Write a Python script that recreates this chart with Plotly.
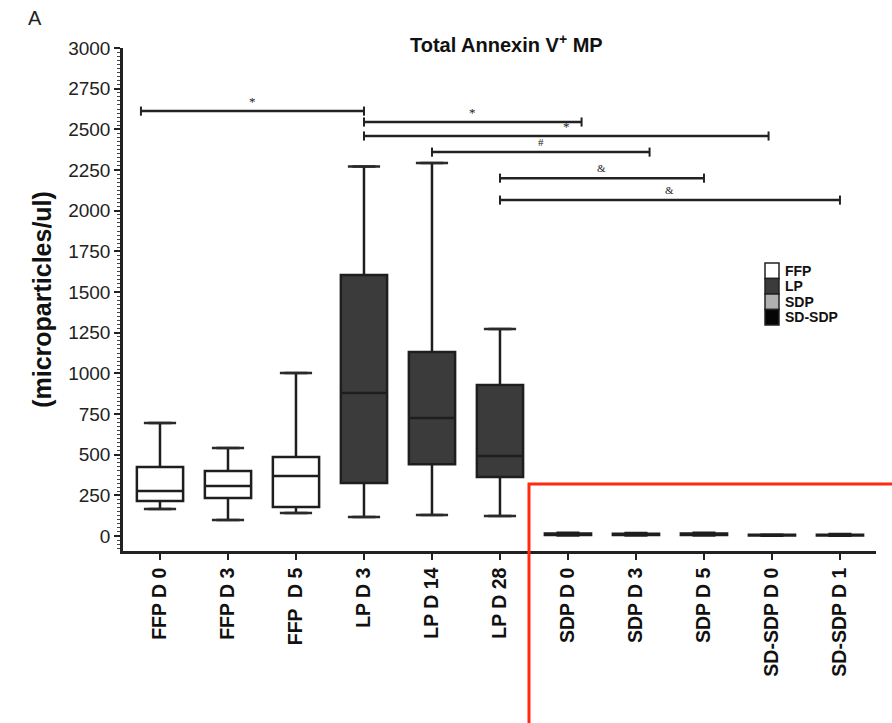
import plotly.graph_objects as go

# ---------------- data ----------------
categories = ["FFP D 0", "FFP D 3", "FFP  D 5", "LP D 3", "LP D 14", "LP D 28",
              "SDP D 0", "SDP D 3", "SDP D 5", "SD-SDP D 0", "SD-SDP D 1"]
groups = ["FFP", "FFP", "FFP", "LP", "LP", "LP", "SDP", "SDP", "SDP", "SD-SDP", "SD-SDP"]
lower = [166, 98, 141, 117, 129, 123, 3, 3, 3, 2, 2]
q1 = [215, 234, 178, 326, 442, 363, 6, 6, 7, 4, 4]
median = [277, 307, 369, 879, 725, 492, 10, 10, 11, 6, 6]
q3 = [424, 400, 486, 1604, 1131, 928, 15, 14, 16, 8, 8]
upper = [695, 541, 1002, 2272, 2293, 1272, 20, 18, 20, 10, 12]

group_names = ["FFP", "LP", "SDP", "SD-SDP"]
group_fill = ["#ffffff", "#3b3b3b", "#b0b0b0", "#050505"]

# significance brackets (category index positions)
sig_x0 = [-0.28, 3.0, 3.0, 4.0, 5.0, 5.0]
sig_x1 = [3.0, 6.2, 8.95, 7.2, 8.0, 10.0]
sig_y = [2612, 2545, 2459, 2360, 2200, 2065]
sig_label = ["*", "*", "*", "#", "&", "&"]

y_ticks = [0, 250, 500, 750, 1000, 1250, 1500, 1750, 2000, 2250, 2500, 2750, 3000]

fig = go.Figure()

for g, fc in zip(group_names, group_fill):
    idx = [i for i, gg in enumerate(groups) if gg == g]
    fig.add_trace(go.Box(
        x=[categories[i] for i in idx],
        q1=[q1[i] for i in idx],
        median=[median[i] for i in idx],
        q3=[q3[i] for i in idx],
        lowerfence=[lower[i] for i in idx],
        upperfence=[upper[i] for i in idx],
        fillcolor=fc,
        line=dict(color="#1e1e1e", width=2.5),
        width=0.68,
        boxpoints=False,
        showlegend=False,
        hoverinfo="skip",
    ))

# whisker caps
cap_x = [categories[i] for i in range(len(categories)) if groups[i] in ("FFP", "LP")] * 2
cap_y = [lower[i] for i in range(len(categories)) if groups[i] in ("FFP", "LP")] + \
        [upper[i] for i in range(len(categories)) if groups[i] in ("FFP", "LP")]
fig.add_trace(go.Scatter(
    x=cap_x, y=cap_y, mode="markers",
    marker=dict(symbol="line-ew", size=23, line=dict(color="#2a2a2a", width=2.5)),
    showlegend=False, hoverinfo="skip"))

shapes = []
annotations = []
for x0, x1, y, lab in zip(sig_x0, sig_x1, sig_y, sig_label):
    shapes.append(dict(type="line", xref="x", yref="y", x0=x0, x1=x1, y0=y, y1=y,
                       line=dict(color="#222", width=2.5)))
    for xe in (x0, x1):
        shapes.append(dict(type="line", xref="x", yref="y", x0=xe, x1=xe, y0=y - 28, y1=y + 28,
                           line=dict(color="#222", width=2)))
    annotations.append(dict(x=(x0 + x1) / 2, y=y, xref="x", yref="y", text=lab,
                            showarrow=False, yshift=10,
                            font=dict(size=11 if lab != "*" else 13, color="#222",
                                      family="Liberation Serif")))

# legend (custom)
L = 123
W = 753
B = 551
H = 503
def px_x(p):
    return (p - L) / W
def px_y(p):
    return (B - p) / H
for k, (name, fc) in enumerate(zip(group_names, group_fill)):
    top = 263 + k * 15.5
    shapes.append(dict(type="rect", xref="paper", yref="paper",
                       x0=px_x(765), x1=px_x(779), y0=px_y(top + 15.5), y1=px_y(top),
                       fillcolor=fc, line=dict(color="#222", width=1.5)))
    annotations.append(dict(xref="paper", yref="paper", x=px_x(783), y=px_y(top + 7.7),
                            text=f"<b>{name}</b>", showarrow=False, xanchor="left",
                            yanchor="middle",
                            font=dict(size=14, color="#111", family="Liberation Sans")))

# red highlight rectangle
shapes.append(dict(type="rect", xref="paper", yref="paper",
                   x0=px_x(529), x1=px_x(905), y0=px_y(740), y1=px_y(484),
                   line=dict(color="#ff2a10", width=3), fillcolor="rgba(0,0,0,0)"))

annotations.append(dict(xref="paper", yref="paper", x=px_x(506), y=px_y(44),
                        text="<b>Total Annexin V<sup>+</sup> MP</b>", showarrow=False,
                        xanchor="center", yanchor="middle",
                        font=dict(size=20, color="#111", family="Liberation Sans")))
annotations.append(dict(xref="paper", yref="paper", x=px_x(26), y=px_y(18),
                        text="A", showarrow=False, xanchor="left", yanchor="middle",
                        font=dict(size=20, color="#222", family="Liberation Sans")))

fig.update_layout(
    width=892, height=723,
    margin=dict(l=123, r=16, t=48, b=172),
    plot_bgcolor="white", paper_bgcolor="white",
    shapes=shapes, annotations=annotations,
    font=dict(family="Liberation Sans", color="#111"),
    xaxis=dict(
        type="category", categoryorder="array", categoryarray=categories,
        range=[-0.544, 10.53], showline=True, linecolor="#222", linewidth=2.5,
        ticks="outside", ticklen=6, tickwidth=2, tickcolor="#222",
        tickangle=-90, tickfont=dict(size=19.5, family="Liberation Sans", color="#111"),
        tickvals=categories, ticktext=[f"<b>{c}</b>" for c in categories],
        showgrid=False, zeroline=False, fixedrange=True,
    ),
    yaxis=dict(
        range=[-92, 3000], showline=True, linecolor="#222", linewidth=2.5,
        ticks="outside", ticklen=6, tickwidth=2, tickcolor="#222",
        tickvals=y_ticks, ticktext=[str(v) for v in y_ticks],
        tickfont=dict(size=19, family="Liberation Sans Narrow, Liberation Sans", color="#222"),
        minor=dict(dtick=25, ticks="outside", ticklen=3, tickcolor="#444", tickwidth=1),
        showgrid=False, zeroline=False,
        title=dict(text="<b>(microparticles/ul)</b>", standoff=10,
                   font=dict(size=25, family="Liberation Sans", color="#111")),
    ),
)

fig.write_html("out.html")
